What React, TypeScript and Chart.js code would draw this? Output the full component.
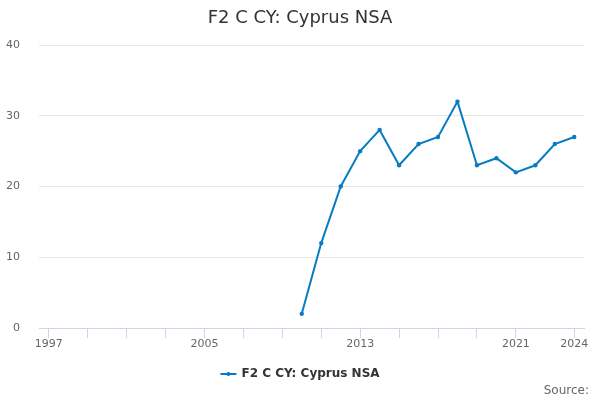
import React, { useEffect, useRef } from "react";
import { Chart, registerables } from "chart.js";

Chart.register(...registerables);

const title = "F2 C CY: Cyprus NSA";
const seriesName = "F2 C CY: Cyprus NSA";
const years = [2010, 2011, 2012, 2013, 2014, 2015, 2016, 2017, 2018, 2019, 2020, 2021, 2022, 2023, 2024];
const values = [2, 12, 20, 25, 28, 23, 26, 27, 32, 23, 24, 22, 23, 26, 27];
const xTickYears = [1997, 1999, 2001, 2003, 2005, 2007, 2009, 2011, 2013, 2015, 2017, 2019, 2021, 2024];
const xLabelYears = [1997, 2005, 2013, 2021, 2024];
const yTicks = [0, 10, 20, 30, 40];

const FONT = "'DejaVu Sans', sans-serif";
const LINE = "#087cc2";

export default function App() {
  const ref = useRef<HTMLCanvasElement | null>(null);
  useEffect(() => {
    document.body.style.margin = "0";
    const canvas = ref.current!;
    const overlay = {
      id: "overlay",
      afterDraw(chart: any) {
        const ctx = chart.ctx as CanvasRenderingContext2D;
        ctx.save();
        ctx.fillStyle = "#333333";
        ctx.font = `18px ${FONT}`;
        ctx.textAlign = "center";
        ctx.textBaseline = "middle";
        ctx.fillText(title, 300, 18);
        ctx.font = `bold 12px ${FONT}`;
        ctx.textAlign = "left";
        const tw = ctx.measureText(seriesName).width;
        const total = 16 + 5 + tw;
        const sx = 300 - total / 2;
        const ly = 374;
        ctx.strokeStyle = LINE;
        ctx.lineWidth = 2;
        ctx.beginPath();
        ctx.moveTo(sx, ly);
        ctx.lineTo(sx + 16, ly);
        ctx.stroke();
        ctx.fillStyle = LINE;
        ctx.beginPath();
        ctx.arc(sx + 8, ly, 2, 0, Math.PI * 2);
        ctx.fill();
        ctx.fillStyle = "#333333";
        ctx.fillText(seriesName, sx + 21, ly);
        ctx.font = `12px ${FONT}`;
        ctx.fillStyle = "#666666";
        ctx.textAlign = "right";
        ctx.fillText("Source:", 589, 391);
        ctx.restore();
      },
    };
    const chart = new Chart(canvas, {
      type: "line",
      data: {
        datasets: [
          {
            label: seriesName,
            data: years.map((y, i) => ({ x: y, y: values[i] })),
            borderColor: LINE,
            backgroundColor: LINE,
            borderWidth: 2,
            pointRadius: 2.2,
            pointBorderWidth: 0,
            pointHoverRadius: 3,
            tension: 0,
          },
        ],
      },
      options: {
        animation: false,
        responsive: false,
        layout: { padding: { top: 45, right: 16, bottom: 42, left: 0 } },
        plugins: {
          legend: { display: false },
          title: { display: false },
          tooltip: { enabled: false },
        },
        scales: {
          x: {
            type: "linear",
            min: 1996.5,
            max: 2024.5,
            afterBuildTicks(scale: any) {
              scale.ticks = xTickYears.map((v) => ({ value: v }));
            },
            afterFit(scale: any) {
              scale.height = 30;
            },
            grid: {
              drawOnChartArea: false,
              drawTicks: true,
              tickLength: 10,
              color: "#ccd6eb",
            },
            border: { display: true, color: "#ccd6eb" },
            ticks: {
              autoSkip: false,
              maxRotation: 0,
              padding: 0,
              color: "#666666",
              font: { family: FONT, size: 11 },
              callback: (v: any) => (xLabelYears.includes(Number(v)) ? String(v) : ""),
            },
          },
          y: {
            min: 0,
            max: 40,
            afterBuildTicks(scale: any) {
              scale.ticks = yTicks.map((v) => ({ value: v }));
            },
            afterFit(scale: any) {
              scale.width = 39;
            },
            grid: { color: "#e6e6e6", drawTicks: false },
            border: { display: false },
            ticks: {
              padding: 19,
              color: "#666666",
              font: { family: FONT, size: 11 },
            },
          },
        },
      },
      plugins: [overlay],
    });
    return () => chart.destroy();
  }, []);
  return <canvas ref={ref} width={600} height={400} style={{ display: "block" }} />;
}
